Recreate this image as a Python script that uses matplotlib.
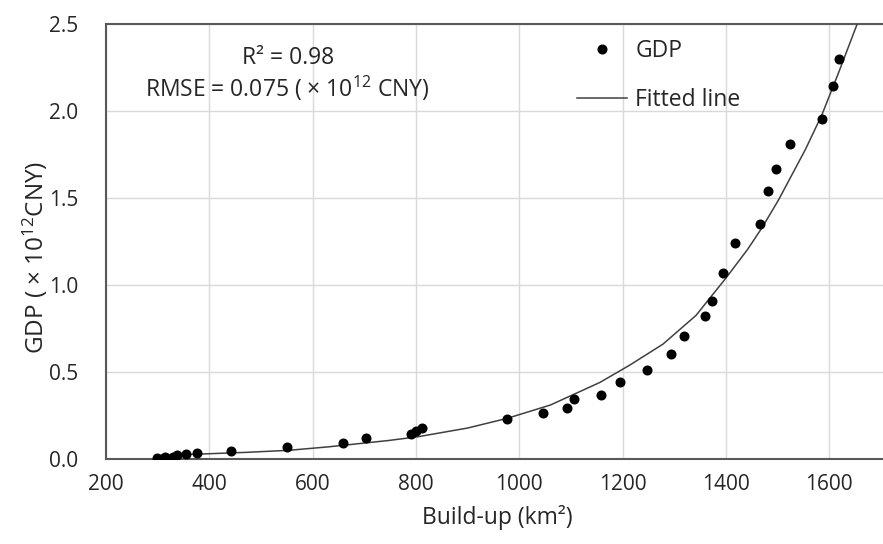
import matplotlib
matplotlib.use("Agg")
import matplotlib.pyplot as plt
from matplotlib.lines import Line2D

plt.rcParams['font.family'] = ['Open Sans', 'DejaVu Sans']
plt.rcParams['mathtext.fontset'] = 'custom'
plt.rcParams['mathtext.rm'] = 'Open Sans'
plt.rcParams['mathtext.it'] = 'Open Sans:italic'
plt.rcParams['mathtext.bf'] = 'Open Sans:bold'

# Observed data (build-up area km², GDP ×10^12 CNY)
build_up = [299, 315, 329, 337, 354, 376, 441, 551, 659, 704, 791, 801, 812,
            977, 1046, 1092, 1105, 1159, 1194, 1248, 1293, 1319, 1359, 1373,
            1394, 1417, 1465, 1482, 1496, 1524, 1585, 1608, 1619]
gdp = [0.004, 0.010, 0.013, 0.021, 0.029, 0.033, 0.048, 0.069, 0.090, 0.119,
       0.144, 0.163, 0.176, 0.230, 0.266, 0.295, 0.347, 0.370, 0.440, 0.510,
       0.603, 0.707, 0.824, 0.910, 1.070, 1.240, 1.350, 1.540, 1.667, 1.809,
       1.956, 2.145, 2.300]

# Fitted line
fit_x = [300, 387, 470, 554, 631, 746, 804, 900, 977, 1060, 1156, 1214, 1278,
         1342, 1400, 1442, 1470, 1502, 1554, 1586, 1618, 1654, 1670]
fit_y = [0.021, 0.029, 0.038, 0.050, 0.070, 0.106, 0.128, 0.178, 0.234, 0.310,
         0.440, 0.540, 0.660, 0.825, 1.040, 1.205, 1.330, 1.490, 1.780, 1.980,
         2.220, 2.500, 2.640]

x_ticks = [200, 400, 600, 800, 1000, 1200, 1400, 1600]
y_ticks = [0.0, 0.5, 1.0, 1.5, 2.0, 2.5]

W, H = 883, 544
fig = plt.figure(figsize=(W / 100, H / 100), dpi=100)
ax = fig.add_axes([106 / W, 1 - 459 / H, (W - 106) / W, (459 - 24) / H])

text_color = '#262626'
fs = 16.5
ax.plot(fit_x, fit_y, color='#404040', lw=1.1, zorder=3)
ax.plot(build_up, gdp, 'o', color='black', ms=6.2, zorder=4, linestyle='none')

ax.set_xlim(200, 1704)
ax.set_ylim(0, 2.5)
ax.set_xticks(x_ticks)
ax.set_yticks(y_ticks)
ax.set_yticklabels([f"{v:.1f}" for v in y_ticks])
ax.grid(True, color='#d9d9d9', lw=1.0)
ax.set_axisbelow(True)
for s in ['left', 'bottom', 'top']:
    ax.spines[s].set_color('#595959')
    ax.spines[s].set_linewidth(1.5)
ax.spines['right'].set_visible(False)
ax.tick_params(axis='both', length=0, labelsize=15, colors=text_color)
ax.tick_params(axis='y', pad=20)
ax.tick_params(axis='x', pad=11)

fig.text(497 / W, 1 - 518 / H, 'Build-up (km²)', fontsize=fs,
         color=text_color, ha='center', va='center')
fig.text(35 / W, 1 - 257 / H, 'GDP ( × 10$^{12}$CNY)', rotation=90,
         fontsize=17.5, color=text_color, ha='center', va='center')

fig.text(288 / W, 1 - 58 / H, 'R² = 0.98', fontsize=fs, color=text_color,
         ha='center', va='center')
fig.text(287 / W, 1 - 88 / H, 'RMSE = 0.075 ( × 10$^{12}$ CNY)', fontsize=fs,
         color=text_color, ha='center', va='center')

handles = [Line2D([], [], marker='o', color='black', ms=6.2, linestyle='none'),
           Line2D([], [], color='#404040', lw=1.1)]
leg = fig.legend(handles, ['GDP', 'Fitted line'], loc='upper left',
                 bbox_to_anchor=(577 / W, 1 - 39 / H), frameon=False,
                 fontsize=fs, handlelength=2.2, handletextpad=0.35,
                 labelspacing=1.1, borderpad=0, borderaxespad=0)
for t in leg.get_texts():
    t.set_color(text_color)

fig.savefig('out.png', dpi=100)
